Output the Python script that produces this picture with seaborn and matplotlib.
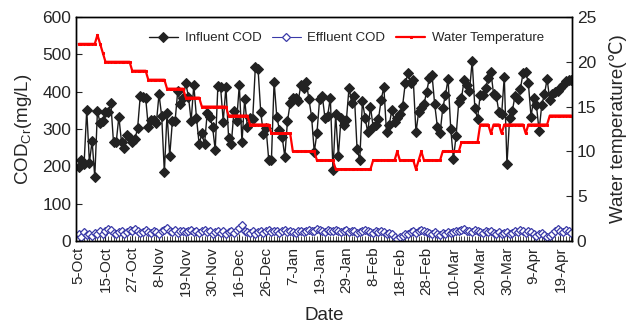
import matplotlib
matplotlib.use("Agg")
import matplotlib.pyplot as plt
from matplotlib.ticker import MultipleLocator
import pandas as pd
import seaborn as sns

# sample-by-sample readings (one per sampling day)
influent = [199, 217, 205, 351, 210, 268, 172, 348, 315, 321, 345, 345, 369, 264, 264, 333, 264, 248, 284, 275,
            266, 273, 302, 389, 386, 384, 306,
            324, 324, 315, 393, 335, 184, 342, 228, 321, 321, 402, 366, 384, 422, 387, 321, 418, 330, 259, 288,
            259, 342, 333, 306, 244, 416,
            412, 320, 413, 277, 259, 348, 321, 418, 264, 380, 306, 329, 326, 467, 461, 346, 286, 302, 217, 217,
            427, 333, 297, 279, 226, 321,
            369, 382, 384, 375, 418, 409, 427, 380, 333, 239, 288, 380, 389, 330, 335, 384, 190, 339, 228, 329,
            311, 324, 411, 369, 389, 246,
            217, 375, 329, 291, 360, 306, 311, 327, 378, 413, 291, 311, 351, 320, 330, 339, 362, 422, 449, 422,
            431, 291, 345, 355, 366, 400,
            436, 445, 366, 306, 288, 355, 391, 434, 300, 220, 282, 373, 382, 431, 418, 402, 482, 357, 327, 391,
            391, 409, 436, 454, 393, 389,
            345, 339, 440, 205, 330, 348, 389, 380, 407, 449, 454, 422, 333, 382, 364, 295, 364, 393, 434, 378,
            393, 400, 402, 409, 418, 429, 431, 431]

effluent = [18, 12, 25, 16, 20, 14, 22, 18, 26, 20, 28, 33, 30, 22, 18, 25, 28, 20, 24, 30, 26, 32, 28, 22, 25,
            30, 24,
            22, 28, 25, 20, 26, 30, 34, 28, 24, 30, 22, 26, 28, 24, 27, 30, 25, 28, 22, 26, 30, 24, 28, 20, 25, 27,
            22, 26, 18, 24, 28, 22, 30, 36, 42, 28, 24, 22, 26, 20, 24, 28, 22, 26, 30, 24, 28, 26, 22, 28, 30, 25,
            28, 25, 22, 26, 28, 24, 27, 30, 26, 28, 32, 30, 28, 25, 30, 28, 26, 30, 28, 25, 27, 30, 24, 28, 26, 22,
            25, 28, 30, 26, 24, 22, 27, 25, 28, 24, 20, 22, 18, 12, 6, 10, 14, 18, 20, 24, 26, 22, 28, 30, 26, 24,
            22, 20, 24, 18, 16, 22, 20, 25, 22, 24, 28, 26, 30, 32, 28, 26, 24, 30, 28, 25, 22, 26, 24, 28, 22, 20,
            24, 20, 22, 25, 18, 22, 26, 24, 30, 28, 22, 26, 24, 20, 14, 18, 22, 16, 10, 14, 20, 26, 32, 28, 24, 30,
            26, 22]

water_temp = [22, 22, 22, 22, 22, 22, 22, 23, 22, 21,
              20, 20, 20, 20, 20, 20, 20, 20, 20, 20,
              19, 19, 19, 19, 19, 19,
              18, 18, 18, 18, 18, 18, 18,
              17, 17, 17, 17, 17, 17, 17,
              16, 16, 16, 16, 16, 16,
              15, 15, 15, 15, 15, 15, 15, 15, 15, 15,
              14, 14, 14, 14, 14, 14, 14, 14,
              13, 13, 13, 13, 13, 13, 13, 13,
              12, 12, 12, 12, 12, 12, 12, 12,
              10, 10, 10, 10, 10, 10, 10, 10, 10,
              9, 9, 9, 9, 9, 9, 9,
              8, 8, 8, 8, 8, 8, 8, 8, 8, 8, 8, 8, 8, 8,
              9, 9, 9, 9, 9, 9, 9, 9, 9, 10, 9, 9, 9, 9, 9, 9, 8, 9, 10, 9, 9, 9, 9, 9, 9, 9,
              10, 10, 10, 10, 10, 10, 10,
              11, 11, 11, 11, 11, 11, 11,
              13, 13, 13, 13, 12, 13, 13, 13, 12, 13, 13, 13, 13, 13, 13, 13, 13, 12, 13, 13, 13, 13, 13, 13,
              13, 13,
              14, 14, 14, 14, 14, 14, 14, 14, 14]

date_labels = ["5-Oct", "15-Oct", "27-Oct", "8-Nov", "19-Nov", "30-Nov", "16-Dec", "26-Dec", "7-Jan",
               "19-Jan", "29-Jan", "8-Feb", "18-Feb", "28-Feb", "10-Mar", "20-Mar", "30-Mar", "9-Apr", "19-Apr"]

df = pd.DataFrame({"sample": range(len(influent)), "influent": influent,
                   "effluent": effluent, "temp": water_temp})

sns.set_style("ticks")
plt.rcParams["font.family"] = ["Liberation Sans", "DejaVu Sans"]

fig = plt.figure(figsize=(6.31, 3.27), dpi=100)
ax = fig.add_axes([0.1205, 0.263, 0.786, 0.685])
ax2 = ax.twinx()

sns.lineplot(data=df, x="sample", y="influent", ax=ax, color="#1a1a1a", linewidth=1,
             marker="D", markersize=5, markerfacecolor="#222222", markeredgecolor="#222222",
             label="Influent COD", legend=False)
sns.lineplot(data=df, x="sample", y="effluent", ax=ax, color="#3a3aa8", linewidth=0.8,
             marker="D", markersize=4, markerfacecolor="white", markeredgecolor="#3a3aa8",
             markeredgewidth=0.9, label="Effluent COD", legend=False)
sns.lineplot(data=df, x="sample", y="temp", ax=ax2, color="red", linewidth=1.6,
             marker="s", markersize=1.5, markerfacecolor="red", markeredgecolor="red",
             label="Water Temperature", legend=False)

ax.set_xlim(-1, 184.3)
ax.set_ylim(0, 600)
ax2.set_ylim(0, 25)
ax.yaxis.set_major_locator(MultipleLocator(100))
ax2.yaxis.set_major_locator(MultipleLocator(5))

ax.set_xticks(range(0, 10 * len(date_labels), 10))
ax.set_xticklabels(date_labels, rotation=90, fontsize=11)
ax.xaxis.set_minor_locator(MultipleLocator(1))
ax.tick_params(axis="x", which="major", direction="in", length=5, width=0.8, pad=4)
ax.tick_params(axis="x", which="minor", direction="in", length=3.5, width=0.6)
ax.tick_params(axis="y", direction="in", length=4, labelsize=12.5)
ax2.tick_params(axis="y", direction="in", length=4, labelsize=12.5)

ax.set_xlabel("Date", fontsize=13.5, labelpad=8)
ax.set_ylabel("COD$_\\mathregular{Cr}$(mg/L)", fontsize=13.5, labelpad=6)
ax2.set_ylabel("Water temperature(\u2103)", fontsize=13.5, labelpad=9)

for a in (ax, ax2):
    for s in a.spines.values():
        s.set_color("black")
        s.set_linewidth(1)

h1, l1 = ax.get_legend_handles_labels()
h2, l2 = ax2.get_legend_handles_labels()
ax2.legend(h1 + h2, l1 + l2, loc="center", bbox_to_anchor=(0.545, 0.905), ncol=3,
           frameon=False, fontsize=9.5, handlelength=2.2, columnspacing=0.8, handletextpad=0.5)

fig.savefig("out.png", dpi=100)
